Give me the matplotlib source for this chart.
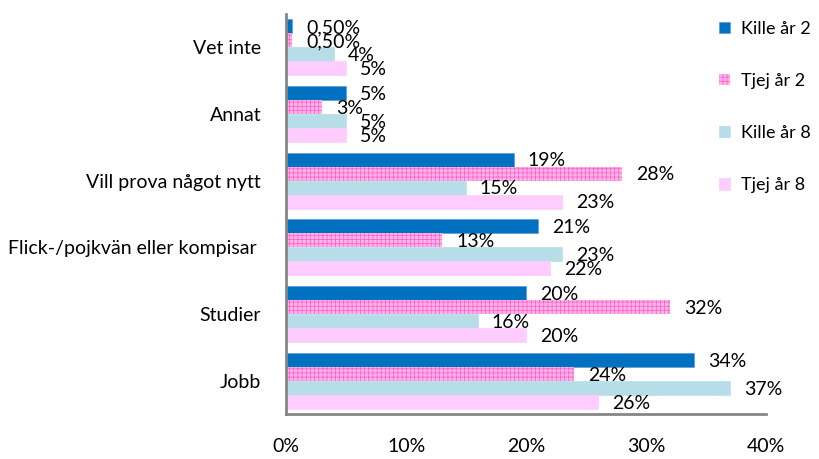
import matplotlib.pyplot as plt
import numpy as np

plt.rcParams['font.family'] = ['Lato', 'DejaVu Sans']
plt.rcParams['hatch.linewidth'] = 0.5

# Reasons, bottom to top
categories = ["Jobb", "Studier", "Flick-/pojkvän eller kompisar ",
              "Vill prova något nytt", "Annat", "Vet inte"]
series_names = ["Kille år 2", "Tjej år 2", "Kille år 8", "Tjej år 8"]
kille_ar2 = [34, 20, 21, 19, 5, 0.5]
tjej_ar2 = [24, 32, 13, 28, 3, 0.5]
kille_ar8 = [37, 16, 23, 15, 5, 4]
tjej_ar8 = [26, 20, 22, 23, 5, 5]
x_ticks = [0, 10, 20, 30, 40]

colors = ["#0070C0", "#FFB3E8", "#B7DDE8", "#FFCCFF"]
hatches = [None, "++++", None, None]
edges = ["#5B9BD5", "#FF5CC8", "#B7DDE8", "#FFCCFF"]


def pct(v):
    if float(v).is_integer():
        return f"{v:.0f}%"
    return f"{v:.2f}%".replace(".", ",")


fig = plt.figure(figsize=(8.2, 4.59), dpi=100)
ax = fig.add_axes([0.349, 0.098, 0.585, 0.872])

y = np.arange(len(categories))
h = 0.21
offsets = [1.5 * h, 0.5 * h, -0.5 * h, -1.5 * h]
all_series = [kille_ar2, tjej_ar2, kille_ar8, tjej_ar8]

for vals, name, col, hat, ec, off in zip(all_series, series_names, colors,
                                         hatches, edges, offsets):
    bars = ax.barh(y + off, vals, height=h, color=col, hatch=hat,
                   edgecolor=ec, linewidth=0.5 if hat is None else 0,
                   label=name)
    for b, v in zip(bars, vals):
        ax.annotate(pct(v), (b.get_width(), b.get_y() + b.get_height() / 2),
                    xytext=(10, -1), textcoords="offset points",
                    ha="left", va="center", fontsize=14, color="black")

ax.set_xlim(0, 40)
ax.set_ylim(-0.5, len(categories) - 0.5)
ax.set_xticks(x_ticks)
ax.set_xticklabels([f"{t}%" for t in x_ticks])
ax.set_yticks(y)
ax.set_yticklabels(categories)
ax.tick_params(axis="x", length=0, pad=17, labelsize=14)
ax.tick_params(axis="y", length=0, pad=18, labelsize=14)

for s in ["top", "right"]:
    ax.spines[s].set_visible(False)
for s in ["left", "bottom"]:
    ax.spines[s].set_color("#868686")
    ax.spines[s].set_linewidth(2)

handles, labels = ax.get_legend_handles_labels()
fig.legend(handles, labels, loc="upper left", bbox_to_anchor=(0.857, 0.99),
           frameon=False, fontsize=13, handlelength=0.6, handleheight=0.6,
           labelspacing=2.0, handletextpad=0.6)

fig.savefig("out.png", dpi=100)
